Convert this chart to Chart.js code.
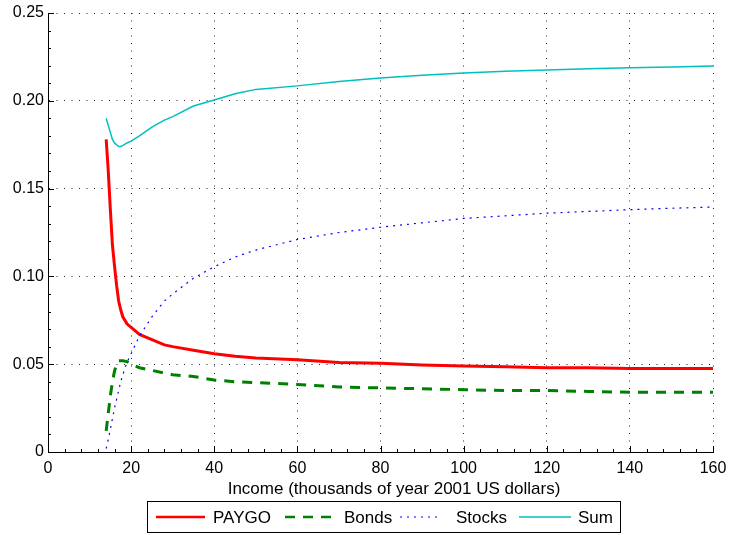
<!DOCTYPE html>
<html>
<head>
<meta charset="utf-8">
<script src="https://cdn.jsdelivr.net/npm/chart.js@4.4.0/dist/chart.umd.min.js"></script>
<style>
  html, body { margin: 0; padding: 0; background: #fff; }
</style>
</head>
<body>
<canvas id="chart" width="730" height="535"></canvas>
<script>
// income in thousands of year 2001 US dollars
const income = [14, 14.5, 15, 15.5, 16, 16.5, 17, 17.5, 18, 19, 20, 22, 25, 28, 30, 35, 40, 45, 50, 60, 70, 80, 90, 100, 110, 120, 130, 140, 150, 160];
const paygo  = [0.178, 0.160, 0.138, 0.118, 0.106, 0.095, 0.086, 0.081, 0.077, 0.073, 0.071, 0.067, 0.064, 0.061, 0.060, 0.058, 0.056, 0.0545, 0.0535, 0.0525, 0.051, 0.0505, 0.0495, 0.049, 0.0485, 0.048, 0.048, 0.0475, 0.0475, 0.0475];
const bonds  = [0.012, 0.022, 0.032, 0.040, 0.046, 0.050, 0.052, 0.052, 0.052, 0.0515, 0.050, 0.048, 0.0465, 0.045, 0.044, 0.043, 0.041, 0.040, 0.0395, 0.0385, 0.037, 0.0365, 0.036, 0.0355, 0.035, 0.035, 0.0345, 0.034, 0.034, 0.034];
const stocks = [0.002, 0.007, 0.013, 0.019, 0.025, 0.030, 0.035, 0.040, 0.044, 0.051, 0.056, 0.066, 0.077, 0.086, 0.090, 0.099, 0.1055, 0.111, 0.115, 0.121, 0.125, 0.128, 0.1305, 0.133, 0.1345, 0.136, 0.137, 0.138, 0.1388, 0.1395];
const sum    = [0.190, 0.186, 0.182, 0.178, 0.176, 0.175, 0.174, 0.174, 0.1745, 0.176, 0.177, 0.180, 0.185, 0.189, 0.191, 0.197, 0.2005, 0.204, 0.2065, 0.2085, 0.211, 0.213, 0.2145, 0.2158, 0.2168, 0.2175, 0.2183, 0.2188, 0.2193, 0.2198];

const xTicks = [0, 20, 40, 60, 80, 100, 120, 140, 160];
const yTicks = [0, 0.05, 0.10, 0.15, 0.20, 0.25];
const seriesNames = ['PAYGO', 'Bonds', 'Stocks', 'Sum'];
const xTitle = 'Income (thousands of year 2001 US dollars)';

const FONT = 'Liberation Sans, Arial, Helvetica, sans-serif';
const toPoints = (ys) => income.map((x, i) => ({ x, y: ys[i] }));

// legend layout: [line start, line end, text start]
const legendSlots = [[156, 205, 213], [285, 337, 344], [400, 441, 456], [519, 571, 578]];

const axesDecor = {
  id: 'axesDecor',
  afterDraw(chart) {
    const { ctx, chartArea: a, scales: { x, y } } = chart;
    ctx.save();
    ctx.strokeStyle = '#000';
    ctx.lineWidth = 1;
    ctx.beginPath();
    for (let v = 0; v <= 160; v += 4) {
      const px = Math.round(x.getPixelForValue(v)) + 0.5;
      const len = v % 20 === 0 ? 6 : 3;
      ctx.moveTo(px, a.bottom); ctx.lineTo(px, a.bottom - len);
    }
    for (let k = 0; k <= 25; k++) {
      const py = Math.round(y.getPixelForValue(k / 100)) + 0.5;
      const len = k % 5 === 0 ? 6 : 3;
      ctx.moveTo(a.left, py); ctx.lineTo(a.left + len, py);
    }
    ctx.stroke();

    // x axis title
    ctx.fillStyle = '#000';
    ctx.font = '17px ' + FONT;
    ctx.textAlign = 'center';
    ctx.textBaseline = 'middle';
    ctx.fillText(xTitle, 394, 489);

    // legend box
    const top = 501, bottom = 532, mid = 517;
    ctx.fillStyle = '#fff';
    ctx.fillRect(147, top, 473, bottom - top);
    ctx.strokeRect(147.5, top + 0.5, 473, bottom - top);
    ctx.textAlign = 'left';
    chart.data.datasets.forEach((ds, i) => {
      const [x0, x1, tx] = legendSlots[i];
      ctx.save();
      ctx.strokeStyle = ds.borderColor;
      ctx.lineWidth = Math.min(ds.borderWidth, 2.5);
      ctx.setLineDash(ds.borderDash || []);
      ctx.beginPath(); ctx.moveTo(x0, mid); ctx.lineTo(x1, mid); ctx.stroke();
      ctx.restore();
      ctx.fillStyle = '#000';
      ctx.fillText(ds.label, tx, mid + 1);
    });
    ctx.restore();
  }
};

new Chart(document.getElementById('chart'), {
  type: 'line',
  data: {
    datasets: [
      { label: seriesNames[0], data: toPoints(paygo), borderColor: '#ff0000', borderWidth: 3, order: 4 },
      { label: seriesNames[1], data: toPoints(bonds), borderColor: '#008000', borderWidth: 3, borderDash: [10, 8], order: 3 },
      { label: seriesNames[2], data: toPoints(stocks), borderColor: '#0000ff', borderWidth: 1.2, borderDash: [2, 5], order: 2 },
      { label: seriesNames[3], data: toPoints(sum), borderColor: '#00bfbf', borderWidth: 1.5, order: 1 }
    ]
  },
  options: {
    responsive: false,
    animation: false,
    layout: { padding: { top: 13, right: 17, left: 0, bottom: 0 } },
    elements: { point: { radius: 0 }, line: { tension: 0, borderCapStyle: 'butt' } },
    plugins: { legend: { display: false }, tooltip: { enabled: false } },
    scales: {
      x: {
        type: 'linear', min: 0, max: 160,
        afterFit: (s) => { s.height = 83; s.paddingLeft = 0; s.paddingRight = 0; },
        afterBuildTicks: (s) => { s.ticks = xTicks.map((value) => ({ value })); },
        grid: { color: 'rgba(0,0,0,0.85)', lineWidth: 1, drawTicks: false },
        border: { display: true, color: '#000', width: 1, dash: [1, 6.5] },
        ticks: { color: '#000', padding: 7, font: { family: FONT, size: 16 }, maxRotation: 0 }
      },
      y: {
        type: 'linear', min: 0, max: 0.25,
        afterFit: (s) => { s.width = 48; s.paddingTop = 0; s.paddingBottom = 0; },
        afterBuildTicks: (s) => { s.ticks = yTicks.map((value) => ({ value })); },
        grid: { color: 'rgba(0,0,0,0.85)', lineWidth: 1, drawTicks: false },
        border: { display: true, color: '#000', width: 1, dash: [1, 6.5] },
        ticks: { color: '#000', padding: 4, font: { family: FONT, size: 16 }, callback: (v) => (v === 0 ? '0' : v.toFixed(2)) }
      }
    }
  },
  plugins: [axesDecor]
});
</script>
</body>
</html>
